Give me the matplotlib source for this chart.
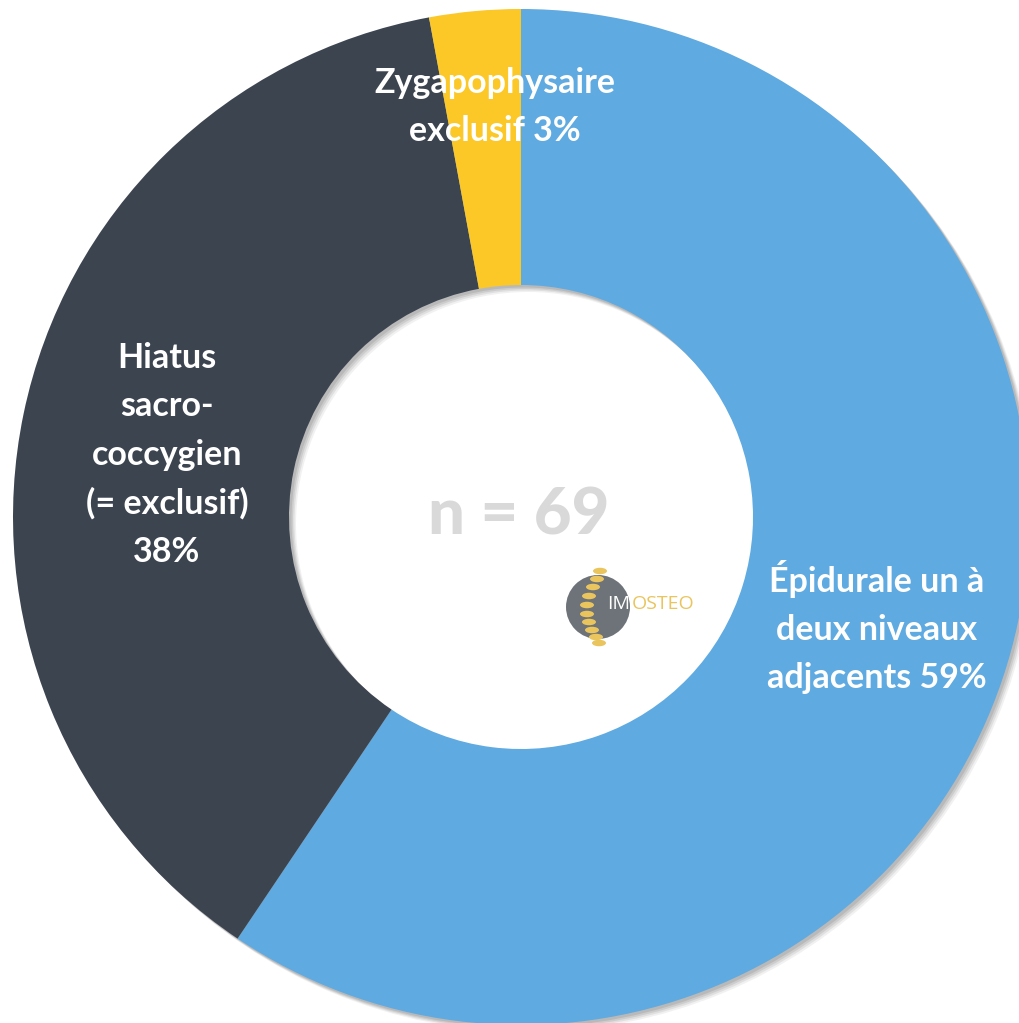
import matplotlib.pyplot as plt
from matplotlib.patches import Circle, Ellipse, Wedge

# données
labels = ["Épidurale un à\ndeux niveaux\nadjacents 59%",
          "Hiatus\nsacro-\ncoccygien\n(= exclusif)\n38%",
          "Zygapophysaire\nexclusif 3%"]
counts = [41, 26, 2]
colors = ["#5FAAE1", "#3C4450", "#FBC828"]
total_label = "n = 69"

W, H = 1020, 1023
fig = plt.figure(figsize=(W / 100, H / 100), dpi=100)
ax = fig.add_axes([0, 0, 1, 1])

cx, cy = 521, H - 517
r_out, r_in = 508, 232
width = r_out - r_in

# ombre portée
for k, a in enumerate([0.10, 0.14, 0.18, 0.22]):
    off = 7 - k * 1.5
    ax.add_patch(Wedge((cx + off, cy - off), r_out, 0, 360, width=width,
                       color="#777777", alpha=a, lw=0))

wedges, _ = ax.pie(counts, colors=colors, startangle=90, counterclock=False,
                   center=(cx, cy), radius=r_out, frame=True,
                   wedgeprops=dict(width=width, linewidth=0))
ax.set_xlim(0, W)
ax.set_ylim(0, H)
ax.set_aspect("equal")
ax.axis("off")

font = ["Lato", "DejaVu Sans"]
lab_pos = [(877, 627), (167, 455), (495, 107)]
for txt, (x, y) in zip(labels, lab_pos):
    ax.text(x, H - y, txt, ha="center", va="center", color="white",
            fontsize=24.5, fontweight="bold", family=font, linespacing=1.62)

ax.text(519, H - 516, total_label, ha="center", va="center", color="#D9D9D9",
        fontsize=47, fontweight=900, family=font)

# logo IMOSTEO
ax.add_patch(Circle((598, H - 607), 32, color="#6D7378", lw=0))
spine_x = [600, 597, 593, 589, 587, 587, 589, 592, 596, 599]
spine_y = [571, 579, 587, 596, 605, 614, 622, 630, 637, 643]
for sx, sy in zip(spine_x, spine_y):
    ax.add_patch(Ellipse((sx, H - sy), 14, 6.5, color="#EAC55E", lw=0))
ax.text(607, H - 604, "IM", ha="left", va="center", color="white",
        fontsize=14, family=["Open Sans", "DejaVu Sans"], zorder=5)
ax.text(632, H - 604, "OSTEO", ha="left", va="center", color="#EAC55E",
        fontsize=14, family=["Open Sans", "DejaVu Sans"], zorder=5)

fig.savefig("out.png", dpi=100, facecolor="white")
